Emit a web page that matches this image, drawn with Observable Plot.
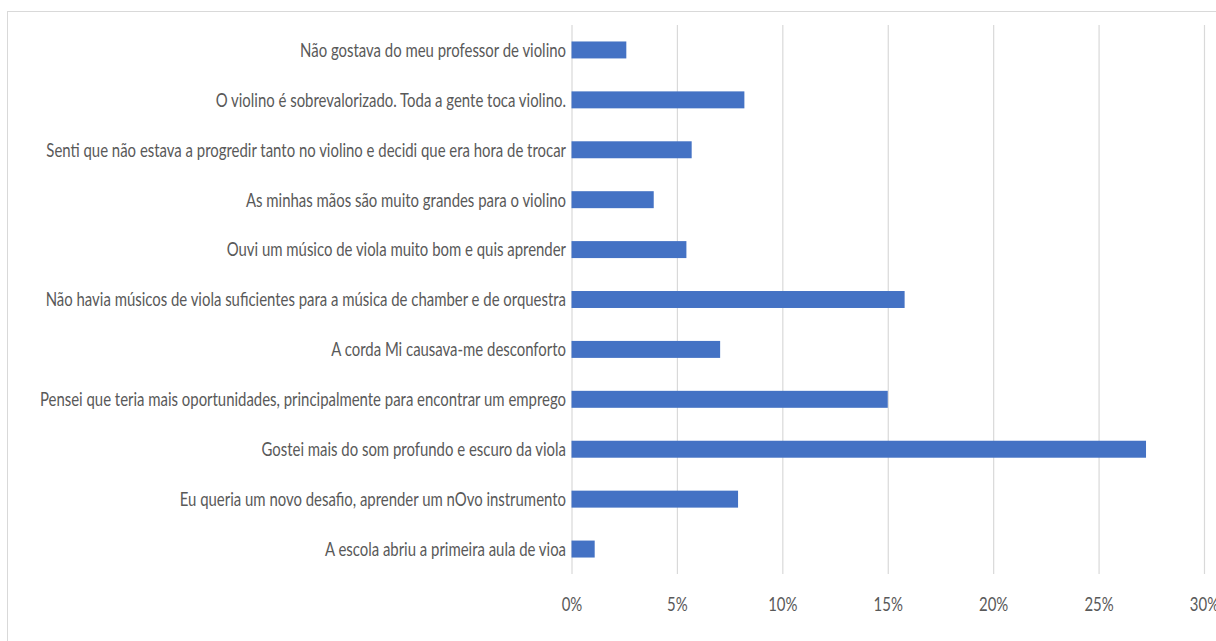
<!DOCTYPE html>
<html>
<head>
<meta charset="utf-8">
<script src="https://cdn.jsdelivr.net/npm/d3@7"></script>
<script src="https://cdn.jsdelivr.net/npm/@observablehq/plot@0.6"></script>
<style>
  html, body { margin: 0; padding: 0; background: #fff; overflow: hidden; width: 1216px; height: 641px; }
  #frame { position: absolute; left: 7px; top: 11px; width: 1300px; height: 700px; border: 1.5px solid #d9d9d9; box-sizing: border-box; }
  #chart { position: absolute; left: 0; top: 0; }
</style>
</head>
<body>
<div id="frame"></div>
<div id="chart"></div>
<script>
const categories = [
  "Não gostava do meu professor de violino",
  "O violino é sobrevalorizado. Toda a gente toca violino.",
  "Senti que não estava a progredir tanto no violino e decidi que era hora de trocar",
  "As minhas mãos são muito grandes para o violino",
  "Ouvi um músico de viola muito bom e quis aprender",
  "Não havia músicos de viola suficientes para a música de chamber e de orquestra",
  "A corda Mi causava-me desconforto",
  "Pensei que teria mais oportunidades, principalmente para encontrar um emprego",
  "Gostei mais do som profundo e escuro da viola",
  "Eu queria um novo desafio, aprender um nOvo instrumento",
  "A escola abriu a primeira aula de vioa"
];
const values = [2.6, 8.2, 5.7, 3.9, 5.45, 15.8, 7.05, 15.0, 27.25, 7.9, 1.1];
const xTicks = [0, 5, 10, 15, 20, 25, 30];

const data = categories.map((c, i) => ({label: c, value: values[i]}));

const chart = Plot.plot({
  width: 1216,
  height: 641,
  marginLeft: 571.5,
  marginRight: 12,
  marginTop: 25,
  marginBottom: 67,
  x: {domain: [0, 30]},
  y: {domain: categories, paddingInner: 0.66, paddingOuter: 0.33, round: false},
  style: {fontFamily: "Lato, 'Liberation Sans Narrow', sans-serif", fontSize: "20px", color: "#595959", background: "transparent", overflow: "visible"},
  marks: [
    Plot.gridX(xTicks, {stroke: "#d9d9d9", strokeOpacity: 1, strokeWidth: 1.2}),
    Plot.barX(data, {x: "value", y: "label", fill: "#4472C4"}),
    Plot.axisY({tickSize: 0, tickPadding: 6, label: null}),
    Plot.axisX(xTicks, {tickSize: 0, tickPadding: 22, label: null, tickFormat: d => d + "%"})
  ]
});
document.getElementById("chart").append(chart);

// condense the text horizontally like the original (narrow typeface)
const yTexts = Array.from(chart.querySelectorAll('g[aria-label="y-axis tick label"] text'));
const xTexts = Array.from(chart.querySelectorAll('g[aria-label="x-axis tick label"] text'));
const maxW = d3.max(yTexts, t => t.getComputedTextLength());
const k = 526 / maxW;
for (const t of yTexts.concat(xTexts)) {
  const w = t.getComputedTextLength();
  t.setAttribute("textLength", w * k);
  t.setAttribute("lengthAdjust", "spacingAndGlyphs");
}
</script>
</body>
</html>
